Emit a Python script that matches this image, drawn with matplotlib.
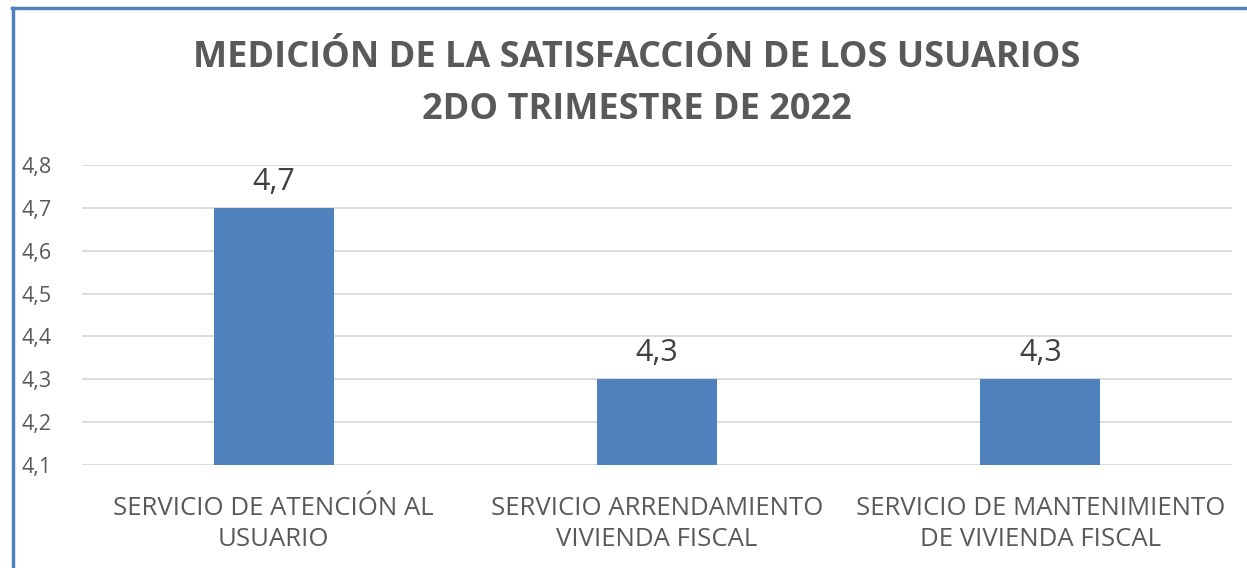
import matplotlib.pyplot as plt
from matplotlib.lines import Line2D

categorias = ["SERVICIO DE ATENCIÓN AL\nUSUARIO",
              "SERVICIO ARRENDAMIENTO\nVIVIENDA FISCAL",
              "SERVICIO DE MANTENIMIENTO\nDE VIVIENDA FISCAL"]
valores = [4.7, 4.3, 4.3]
ticks_y = [4.1, 4.2, 4.3, 4.4, 4.5, 4.6, 4.7, 4.8]
titulo = "MEDICIÓN DE LA SATISFACCIÓN DE LOS USUARIOS\n2DO TRIMESTRE DE 2022"

plt.rcParams['font.family'] = ['Open Sans', 'DejaVu Sans']
gris = "#595959"
azul = "#4F81BD"

fig = plt.figure(figsize=(12.47, 5.68), dpi=100)
ax = fig.add_axes([82 / 1247, 1 - 465 / 568, 1150 / 1247, 300 / 568])

x = range(len(categorias))
ax.bar(x, valores, width=0.313, color=azul, bottom=0, zorder=2)
ax.set_ylim(4.1, 4.8)
ax.set_xlim(-0.5, 2.5)
ax.set_yticks(ticks_y)
ax.set_yticklabels([f"{v:.1f}".replace(".", ",") for v in ticks_y])
ax.set_xticks(list(x))
ax.set_xticklabels(categorias, fontsize=18.5, color=gris, linespacing=1.35)
ax.tick_params(axis="y", labelsize=15.5, colors=gris, length=0, pad=22)
ax.tick_params(axis="x", length=0, pad=22)
ax.grid(axis="y", color="#D9D9D9", linewidth=1.3, zorder=0)
for s in ax.spines.values():
    s.set_visible(False)

for xi, v in zip(x, valores):
    ax.annotate(f"{v:.1f}".replace(".", ","), (xi, v), xytext=(0, 8),
                textcoords="offset points", ha="center", va="bottom",
                fontsize=22, color="#404040")

fig.text(637 / 1247, 1 - 84 / 568, titulo, ha="center", va="center",
         fontsize=26, fontweight="bold", color=gris, linespacing=1.6)

# borde azul del marco
fig.add_artist(Line2D([13 / 1247, 13 / 1247], [0, 1 - 8 / 568], color=azul,
                      linewidth=2.5, transform=fig.transFigure))
fig.add_artist(Line2D([12 / 1247, 1], [1 - 8 / 568, 1 - 8 / 568], color=azul,
                      linewidth=2.5, transform=fig.transFigure))

fig.savefig("out.png", dpi=100)
